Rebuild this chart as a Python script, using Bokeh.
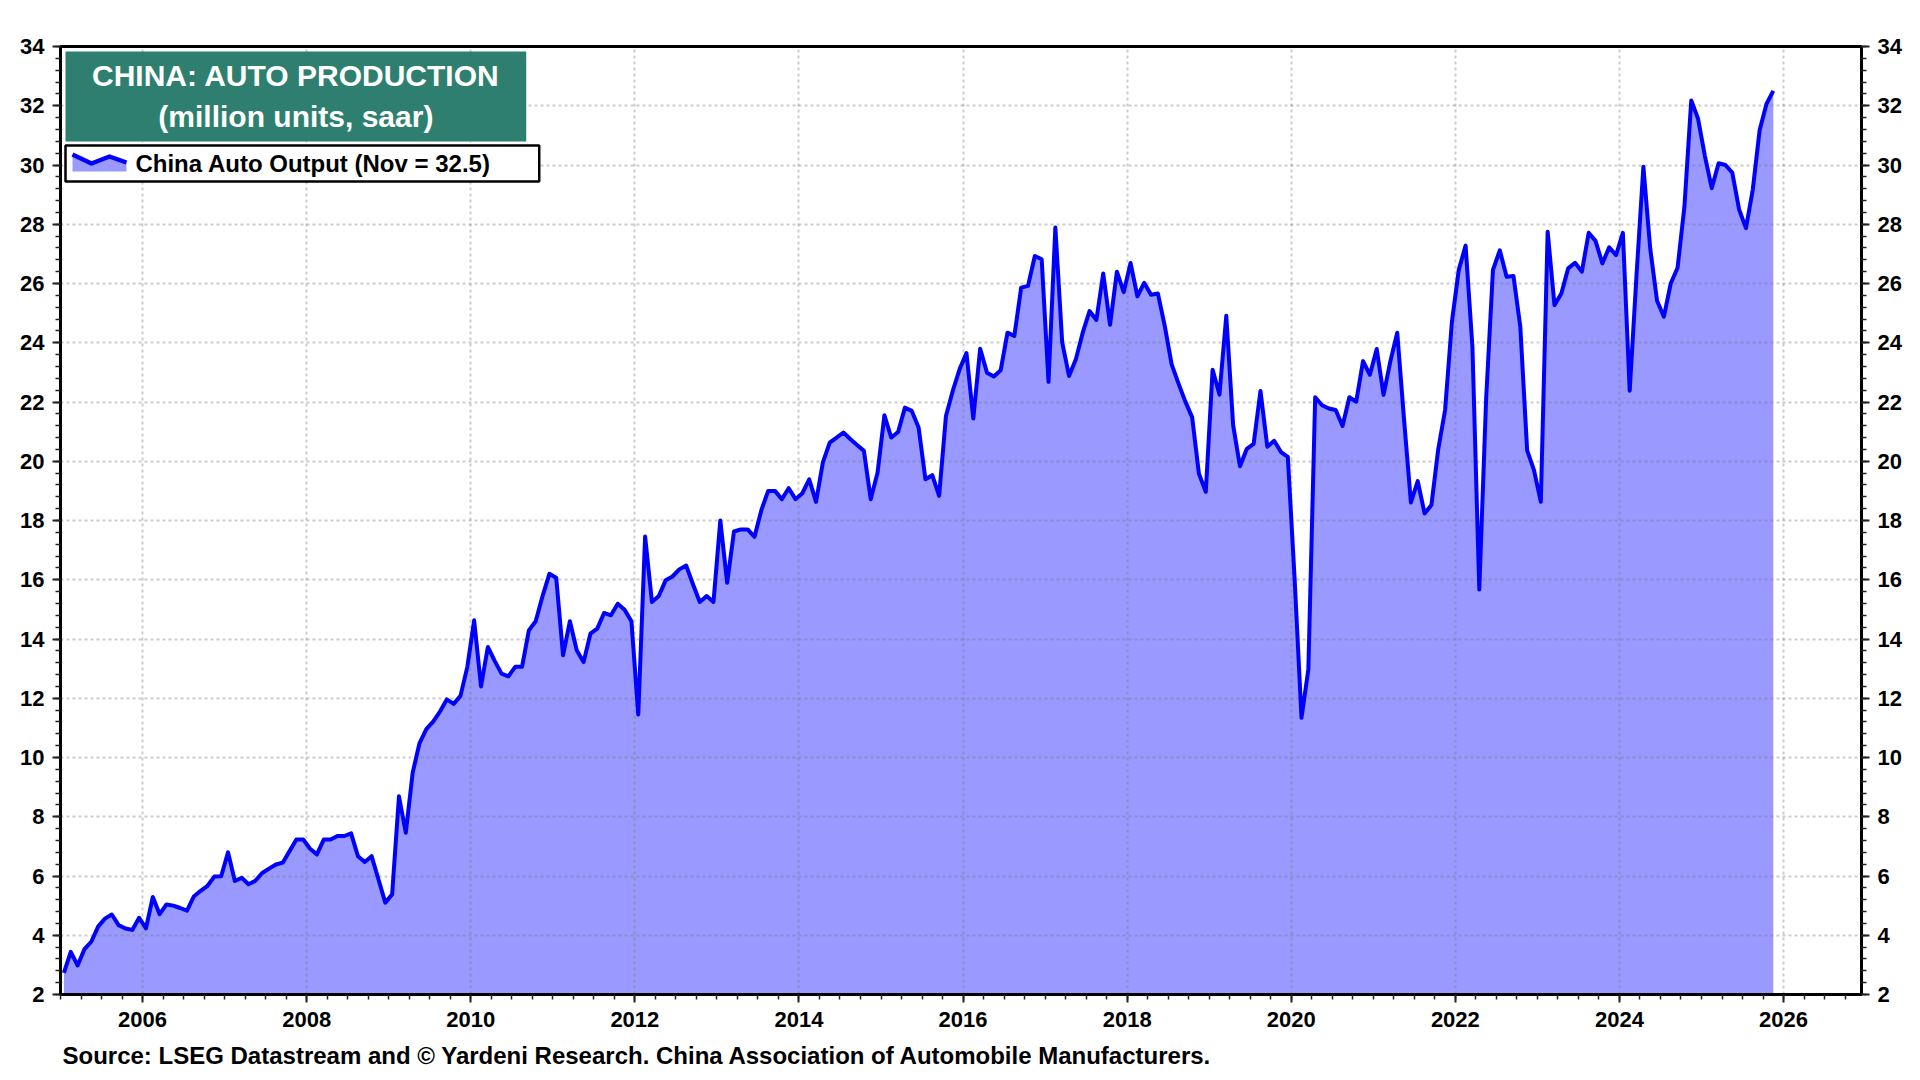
from bokeh.plotting import figure
from bokeh.models import (ColumnDataSource, LinearAxis, FixedTicker, PrintfTickFormatter,
                          BoxAnnotation, Label, Range1d, Title)
from bokeh.embed import file_html
from bokeh.resources import INLINE

# ---------------- data (China auto output, million units, saar; monthly) ----------------
years = list(range(2005, 2026))
v2005 = [2.73, 3.44, 2.98, 3.53, 3.78, 4.29, 4.56, 4.70, 4.34, 4.23, 4.18, 4.59]
v2006 = [4.23, 5.29, 4.71, 5.04, 5.00, 4.92, 4.83, 5.31, 5.50, 5.67, 5.98, 5.99]
v2007 = [6.80, 5.83, 5.94, 5.72, 5.84, 6.10, 6.25, 6.39, 6.45, 6.84, 7.23, 7.23]
v2008 = [6.92, 6.73, 7.23, 7.23, 7.35, 7.35, 7.44, 6.67, 6.47, 6.67, 5.89, 5.10]
v2009 = [5.38, 8.69, 7.46, 9.48, 10.48, 10.96, 11.21, 11.55, 11.96, 11.81, 12.08, 13.06]
v2010 = [14.63, 12.40, 13.73, 13.26, 12.83, 12.74, 13.06, 13.06, 14.29, 14.60, 15.45, 16.20]
v2011 = [16.07, 13.45, 14.60, 13.62, 13.22, 14.18, 14.35, 14.88, 14.80, 15.19, 14.99, 14.60]
v2012 = [11.45, 17.46, 15.25, 15.45, 15.98, 16.11, 16.35, 16.48, 15.85, 15.25, 15.45, 15.25]
v2013 = [18.00, 15.90, 17.63, 17.70, 17.70, 17.45, 18.35, 19.00, 19.00, 18.72, 19.09, 18.72]
v2014 = [18.92, 19.39, 18.63, 19.96, 20.63, 20.80, 20.97, 20.75, 20.55, 20.35, 18.72, 19.62]
v2015 = [21.55, 20.80, 20.99, 21.81, 21.70, 21.14, 19.39, 19.53, 18.83, 21.53, 22.38, 23.11]
v2016 = [23.65, 21.44, 23.80, 22.99, 22.86, 23.07, 24.34, 24.23, 25.86, 25.92, 26.93, 26.82]
v2017 = [22.68, 27.89, 24.01, 22.88, 23.44, 24.34, 25.07, 24.77, 26.34, 24.61, 26.40, 25.71]
v2018 = [26.69, 25.57, 26.02, 25.62, 25.66, 24.57, 23.28, 22.63, 22.02, 21.49, 19.58, 18.97]
v2019 = [23.09, 22.25, 24.91, 21.22, 19.83, 20.42, 20.59, 22.37, 20.49, 20.69, 20.31, 20.15]
v2020 = [16.00, 11.34, 12.97, 22.16, 21.89, 21.78, 21.73, 21.19, 22.16, 22.01, 23.38, 22.92]
v2021 = [23.79, 22.24, 23.38, 24.34, 21.40, 18.61, 19.33, 18.24, 18.52, 20.41, 21.73, 24.72]
v2022 = [26.46, 27.28, 23.85, 15.67, 22.10, 26.46, 27.12, 26.23, 26.25, 24.54, 20.37, 19.70]
v2023 = [18.63, 27.75, 25.27, 25.66, 26.51, 26.70, 26.40, 27.71, 27.44, 26.68, 27.22, 26.96]
v2024 = [27.71, 22.38, 26.30, 29.94, 27.18, 25.42, 24.88, 26.00, 26.53, 28.59, 32.18, 31.56]
v2025 = [30.30, 29.22, 30.06, 30.00, 29.74, 28.50, 27.87, 29.17, 31.17, 32.06, 32.50]

yearly = [v2005, v2006, v2007, v2008, v2009, v2010, v2011, v2012, v2013, v2014, v2015,
          v2016, v2017, v2018, v2019, v2020, v2021, v2022, v2023, v2024, v2025]

x_major_ticks = list(range(2006, 2027, 2))
y_major_ticks = list(range(2, 35, 2))

title_line1 = "CHINA: AUTO PRODUCTION"
title_line2 = "(million units, saar)"
legend_text = "China Auto Output (Nov = 32.5)"
footer_text = "Source: LSEG Datastream and \u00a9 Yardeni Research. China Association of Automobile Manufacturers."

# ---------------- build source ----------------
xs, ys = [], []
for yr, vals in zip(years, yearly):
    for m, v in enumerate(vals):
        xs.append(yr + (m + 0.5) / 12.0)
        ys.append(v)
src = ColumnDataSource(data=dict(x=xs, y=ys))

# ---------------- figure ----------------
X0, X1 = 2005.0, 2026.95
Y0, Y1 = 2, 34
W, H = 1904, 1080
FL, FR, FT, FB = 60, 1862, 46, 994   # frame edges in figure pixels

p = figure(width=W, height=H, output_backend="svg", toolbar_location=None,
           x_range=Range1d(X0, X1), y_range=Range1d(Y0, Y1),
           min_border_left=FL, min_border_right=W - FR,
           min_border_top=FT, min_border_bottom=H - FB)
p.background_fill_color = "white"
p.border_fill_color = "white"
p.outline_line_color = "black"
p.outline_line_width = 3

FONT = "Liberation Sans"

def dx(px):
    return X0 + (px - FL) * (X1 - X0) / (FR - FL)

def dy(py):
    return Y1 - (py - FT) * (Y1 - Y0) / (FB - FT)

# area + line
p.varea(x="x", y1=Y0, y2="y", source=src, fill_color="#9999FF", fill_alpha=1.0, level="image")
p.line(x="x", y="y", source=src, line_color="#0000FF", line_width=4, line_join="round")

# axes
x_minor = [2005 + 0.25 * i for i in range(0, 89)]
y_minor = [2 + 0.4 * i for i in range(0, 81)]

def style_axis(ax):
    ax.axis_line_width = 3
    ax.axis_line_color = "black"
    ax.major_tick_line_width = 2
    ax.major_tick_line_color = "#222222"
    ax.major_tick_out = 8
    ax.major_tick_in = 0
    ax.minor_tick_line_width = 1.5
    ax.minor_tick_line_color = "#222222"
    ax.minor_tick_out = 5
    ax.minor_tick_in = 0
    ax.major_label_text_font = FONT
    ax.major_label_text_font_style = "bold"
    ax.major_label_text_font_size = "22px"
    ax.major_label_text_color = "black"

xt = FixedTicker(ticks=x_major_ticks, minor_ticks=x_minor)
yt = FixedTicker(ticks=y_major_ticks, minor_ticks=y_minor)

p.xaxis.ticker = xt
p.xaxis.formatter = PrintfTickFormatter(format="%d")
p.yaxis.ticker = yt
p.yaxis.formatter = PrintfTickFormatter(format="%d")
for ax in p.xaxis + p.yaxis:
    style_axis(ax)
p.xaxis.major_label_standoff = 9
p.yaxis.major_label_standoff = 8

ry = LinearAxis(ticker=FixedTicker(ticks=y_major_ticks, minor_ticks=y_minor),
                formatter=PrintfTickFormatter(format="%d"))
style_axis(ry)
ry.major_label_standoff = 8
p.add_layout(ry, "right")

# grid
for g in (p.xgrid, p.ygrid):
    g.grid_line_color = "#787878"
    g.grid_line_alpha = 0.38
    g.grid_line_width = 2
    g.grid_line_dash = "3 3"
    g.level = "underlay"
p.xgrid.ticker = xt
p.ygrid.ticker = yt

# title box
p.add_layout(BoxAnnotation(left=dx(65), right=dx(526), top=dy(51), bottom=dy(141),
                           fill_color="#2E7F70", fill_alpha=1.0, line_alpha=0,
                           level="annotation"))
cx = dx((65 + 526) / 2)
for txt, py in ((title_line1, 75), (title_line2, 116)):
    p.add_layout(Label(x=cx, y=dy(py), text=txt, text_align="center", text_baseline="middle",
                       text_font=FONT, text_font_style="bold", text_font_size="30px",
                       text_color="white", level="overlay"))

# legend box
p.add_layout(BoxAnnotation(left=dx(65), right=dx(539), top=dy(145), bottom=dy(181),
                           fill_color="white", fill_alpha=1.0, line_color="black",
                           line_alpha=1.0, line_width=2.5, level="annotation"))
icon_px = [72, 91, 109, 126]
icon_py = [154, 163, 156, 162]
icon_x = [dx(v) for v in icon_px]
icon_y = [dy(v) for v in icon_py]
p.patch(icon_x + [icon_x[-1], icon_x[0]], icon_y + [dy(171), dy(171)],
        fill_color="#9999FF", line_alpha=0, level="overlay")
p.line(icon_x, icon_y, line_color="#0000FF", line_width=4.5, line_join="round", level="overlay")
p.add_layout(Label(x=dx(135), y=dy(163), text=legend_text, text_align="left",
                   text_baseline="middle", text_font=FONT, text_font_style="bold",
                   text_font_size="24px", text_color="black", level="overlay"))

# footer (below the x axis)
footer = Title(text=footer_text, align="left", offset=2, standoff=20,
               text_font=FONT, text_font_style="bold", text_font_size="24px",
               text_color="black")
p.add_layout(footer, "below")

open("out.html", "w").write(file_html(p, INLINE))
